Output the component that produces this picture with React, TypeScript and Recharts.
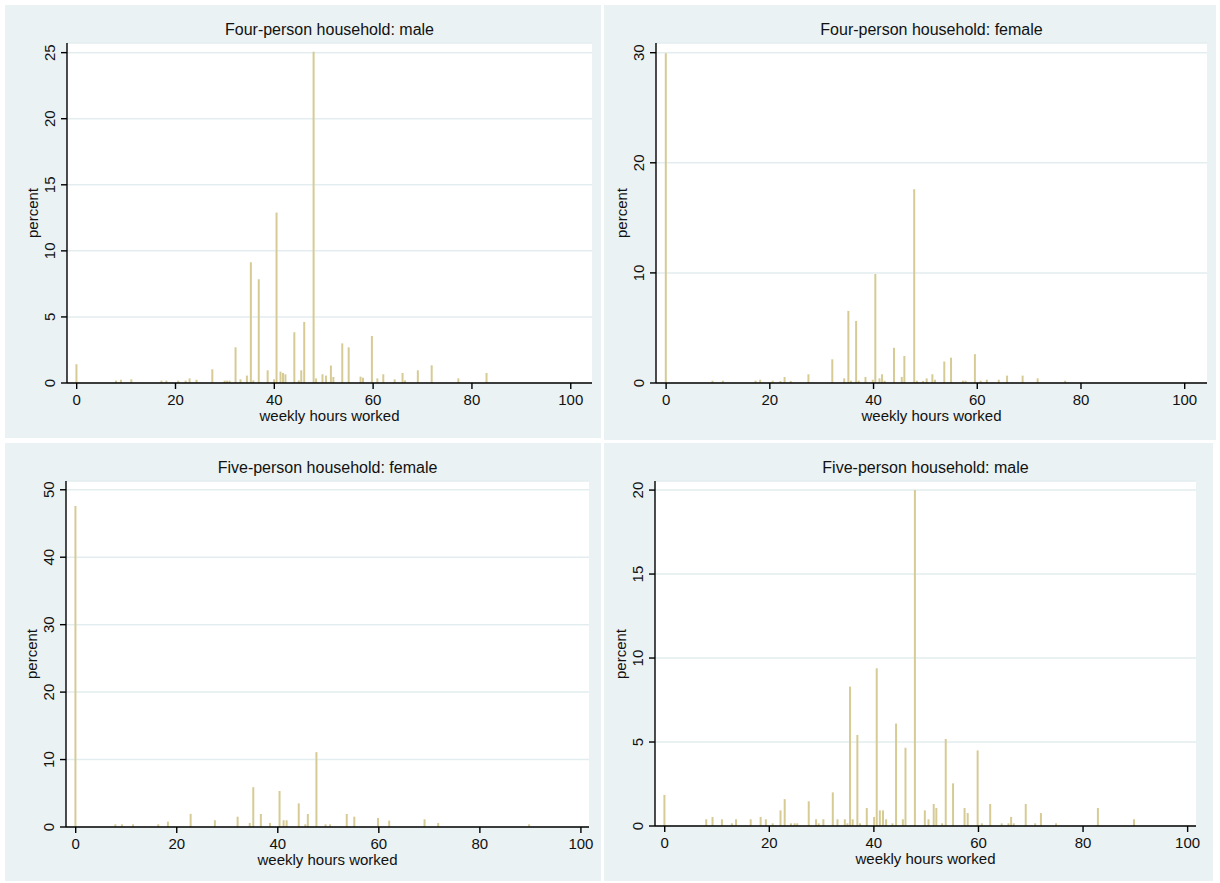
import React from "react";
import { BarChart, Bar, XAxis, YAxis, CartesianGrid } from "recharts";

// Four-person household: male
const FOUR_MALE_HOURS = [
  0, 8, 9, 11.1, 17.2, 18.2, 20.6, 22.1, 22.9, 24.3, 27.5, 30, 30.5, 31, 32.2, 33.2, 34.5, 35.3, 35.8,
  36.9, 38.7, 40, 40.5, 41.3, 41.8, 42.3, 44.1, 45, 45.5, 46.1, 48, 48.5, 49.8, 50.5, 51.5, 52, 53.8,
  55.1, 57.5, 58, 59.8, 60.9, 62.1, 64.4, 66, 66.5, 69.1, 71.9, 77.3, 83,
];
const FOUR_MALE_PCT = [
  1.42, 0.18, 0.25, 0.28, 0.18, 0.18, 0.18, 0.18, 0.35, 0.25, 1.04, 0.18, 0.18, 0.18, 2.7, 0.28, 0.56,
  9.14, 0.2, 7.85, 0.96, 0.28, 12.9, 0.86, 0.76, 0.66, 3.84, 0.2, 0.96, 4.62, 25.06, 0.35, 0.66, 0.56,
  1.32, 0.46, 3.0, 2.7, 0.48, 0.4, 3.56, 0.35, 0.66, 0.28, 0.76, 0.2, 0.96, 1.34, 0.35, 0.76,
];

// Four-person household: female
const FOUR_FEMALE_HOURS = [
  0, 9, 11, 17.3, 18.2, 20.6, 22.1, 22.9, 24.1, 27.5, 32.1, 34.4, 35.2, 35.7, 36.7, 37.2, 38.5, 39.9,
  40.4, 41.2, 41.7, 42.2, 44, 45.5, 46, 47.9, 48.4, 49.6, 50.3, 51.4, 51.9, 53.7, 55, 57.3, 57.8, 59.6,
  60.7, 61.9, 64.2, 65.8, 68.8, 71.7, 77,
];
const FOUR_FEMALE_PCT = [
  29.95, 0.21, 0.21, 0.21, 0.3, 0.21, 0.18, 0.55, 0.18, 0.79, 2.15, 0.42, 6.55, 0.21, 5.64, 0.21, 0.55,
  0.3, 9.9, 0.42, 0.79, 0.21, 3.2, 0.55, 2.45, 17.6, 0.21, 0.18, 0.42, 0.79, 0.3, 1.95, 2.3, 0.21, 0.21,
  2.62, 0.21, 0.3, 0.3, 0.67, 0.67, 0.42, 0.21,
];

// Five-person household: female
const FIVE_FEMALE_HOURS = [
  0, 7.9, 9.2, 11.4, 16.4, 18.3, 22.8, 27.6, 32.1, 34.5, 35.2, 36.7, 38.5, 40.4, 41.2, 41.8, 44.2, 45.5,
  46, 47.7, 49.5, 50.4, 53.7, 55.2, 59.9, 62.1, 69.1, 71.8, 89.8,
];
const FIVE_FEMALE_PCT = [
  47.6, 0.4, 0.4, 0.4, 0.4, 0.8, 1.95, 1.0, 1.53, 0.6, 5.9, 1.93, 0.6, 5.34, 1.0, 1.0, 3.5, 0.4, 1.93,
  11.1, 0.4, 0.4, 1.93, 1.53, 1.34, 0.94, 1.14, 0.6, 0.4,
];

// Five-person household: male
const FIVE_MALE_HOURS = [
  0, 8, 9.2, 11, 12.9, 13.7, 16.5, 18.4, 19.4, 20.7, 22.2, 23, 24.2, 24.9, 25.4, 27.6, 29, 29.5, 30.4,
  32.2, 33.1, 34.5, 35, 35.5, 36, 36.9, 37.4, 38.7, 40.1, 40.6, 41.2, 41.8, 42.4, 43.6, 44.3, 45.6,
  46.1, 47.9, 49.8, 50.5, 51.5, 52, 53.1, 53.8, 55.2, 57.4, 58, 59.9, 60.7, 62.3, 64.5, 65.8, 66.3,
  66.8, 69.1, 70.9, 72, 74.9, 82.9, 89.8,
];
const FIVE_MALE_PCT = [
  1.85, 0.4, 0.54, 0.4, 0.16, 0.4, 0.4, 0.54, 0.4, 0.16, 0.93, 1.6, 0.16, 0.16, 0.16, 1.47, 0.4, 0.16,
  0.4, 2.0, 0.4, 0.4, 0.16, 8.3, 0.4, 5.42, 0.16, 1.07, 0.54, 9.39, 0.93, 0.93, 0.4, 0.16, 6.1, 0.4,
  4.66, 20.0, 0.93, 0.4, 1.31, 1.07, 0.16, 5.18, 2.54, 1.07, 0.77, 4.5, 0.16, 1.31, 0.16, 0.16, 0.54,
  0.16, 1.31, 0.16, 0.77, 0.16, 1.07, 0.4,
];

const X_TICKS = [0, 20, 40, 60, 80, 100];

const BG = "#eaf2f3";
const GRID = "#e3edef";
const BAR = "#d6cb95";
const INK = "#111";
const FONT = '"Liberation Sans", Arial, sans-serif';
const Y_W = 40;
const X_H = 40;

type Box = { x: number; y: number; w: number; h: number };
type Plot = { left: number; right: number; top: number; bottom: number };

type PanelProps = {
  title: string;
  hours: number[];
  pct: number[];
  bg: Box;
  plot: Plot;
  xDomain: [number, number];
  yMax: number;
  yTicks: number[];
};

function YTick(props: any) {
  const { x, y, payload } = props;
  return (
    <text
      x={x}
      y={y}
      dy={-4}
      transform={`rotate(-90, ${x}, ${y})`}
      textAnchor="middle"
      fontSize={15}
      fontFamily={FONT}
      fill={INK}
    >
      {payload.value}
    </text>
  );
}

function Panel({ title, hours, pct, bg, plot, xDomain, yMax, yTicks }: PanelProps) {
  const data = hours.map((h, i) => ({ hours: h, pct: pct[i] }));
  const margin = {
    top: plot.top - bg.y,
    left: plot.left - bg.x - Y_W,
    right: bg.x + bg.w - plot.right,
    bottom: bg.y + bg.h - plot.bottom - X_H,
  };
  const cx = (plot.left + plot.right) / 2 - bg.x;
  const cy = (plot.top + plot.bottom) / 2 - bg.y;

  return (
    <div
      style={{
        position: "absolute",
        left: bg.x,
        top: bg.y,
        width: bg.w,
        height: bg.h,
        background: BG,
        fontFamily: FONT,
        color: INK,
      }}
    >
      <BarChart width={bg.w} height={bg.h} data={data} margin={margin}>
        <CartesianGrid vertical={false} stroke={GRID} strokeWidth={1.5} fill="#ffffff" />
        <XAxis
          type="number"
          dataKey="hours"
          domain={xDomain}
          ticks={X_TICKS}
          allowDataOverflow
          height={X_H}
          tickSize={6}
          tickMargin={5}
          stroke="#000"
          strokeWidth={1.4}
          tick={{ fontSize: 15, fill: INK, fontFamily: FONT }}
        />
        <YAxis
          type="number"
          domain={[0, yMax]}
          ticks={yTicks}
          allowDataOverflow
          width={Y_W}
          tickSize={6}
          tickMargin={2}
          stroke="#000"
          strokeWidth={1.4}
          tick={<YTick />}
        />
        <Bar dataKey="pct" fill={BAR} barSize={2} isAnimationActive={false} />
      </BarChart>
      <div
        style={{
          position: "absolute",
          left: cx,
          top: plot.top - bg.y - 13,
          transform: "translate(-50%, -50%)",
          fontSize: 16,
          lineHeight: "16px",
          whiteSpace: "nowrap",
        }}
      >
        {title}
      </div>
      <div
        style={{
          position: "absolute",
          left: cx,
          top: plot.bottom - bg.y + 33,
          transform: "translate(-50%, -50%)",
          fontSize: 15,
          lineHeight: "14px",
          whiteSpace: "nowrap",
        }}
      >
        weekly hours worked
      </div>
      <div
        style={{
          position: "absolute",
          left: plot.left - bg.x - 35,
          top: cy,
          transform: "translate(-50%, -50%) rotate(-90deg)",
          fontSize: 15,
          lineHeight: "15px",
          whiteSpace: "nowrap",
        }}
      >
        percent
      </div>
    </div>
  );
}

export default function App() {
  return (
    <div
      style={{
        position: "absolute",
        left: 0,
        top: 0,
        width: 1220,
        height: 883,
        background: "#ffffff",
        overflow: "hidden",
      }}
    >
      <Panel
        title="Four-person household: male"
        hours={FOUR_MALE_HOURS}
        pct={FOUR_MALE_PCT}
        bg={{ x: 5, y: 5, w: 596, h: 433 }}
        plot={{ left: 67, right: 592, top: 43, bottom: 383 }}
        xDomain={[-1.96, 104.3]}
        yMax={25.73}
        yTicks={[0, 5, 10, 15, 20, 25]}
      />
      <Panel
        title="Four-person household: female"
        hours={FOUR_FEMALE_HOURS}
        pct={FOUR_FEMALE_PCT}
        bg={{ x: 604, y: 5, w: 612, h: 435 }}
        plot={{ left: 656, right: 1207, top: 43, bottom: 383 }}
        xDomain={[-1.95, 104.3]}
        yMax={30.88}
        yTicks={[0, 10, 20, 30]}
      />
      <Panel
        title="Five-person household: female"
        hours={FIVE_FEMALE_HOURS}
        pct={FIVE_FEMALE_PCT}
        bg={{ x: 5, y: 443, w: 596, h: 438 }}
        plot={{ left: 66, right: 589, top: 481, bottom: 827 }}
        xDomain={[-1.92, 101.6]}
        yMax={51.3}
        yTicks={[0, 10, 20, 30, 40, 50]}
      />
      <Panel
        title="Five-person household: male"
        hours={FIVE_MALE_HOURS}
        pct={FIVE_MALE_PCT}
        bg={{ x: 604, y: 443, w: 609, h: 438 }}
        plot={{ left: 655, right: 1196, top: 481, bottom: 826 }}
        xDomain={[-1.86, 101.6]}
        yMax={20.54}
        yTicks={[0, 5, 10, 15, 20]}
      />
    </div>
  );
}
